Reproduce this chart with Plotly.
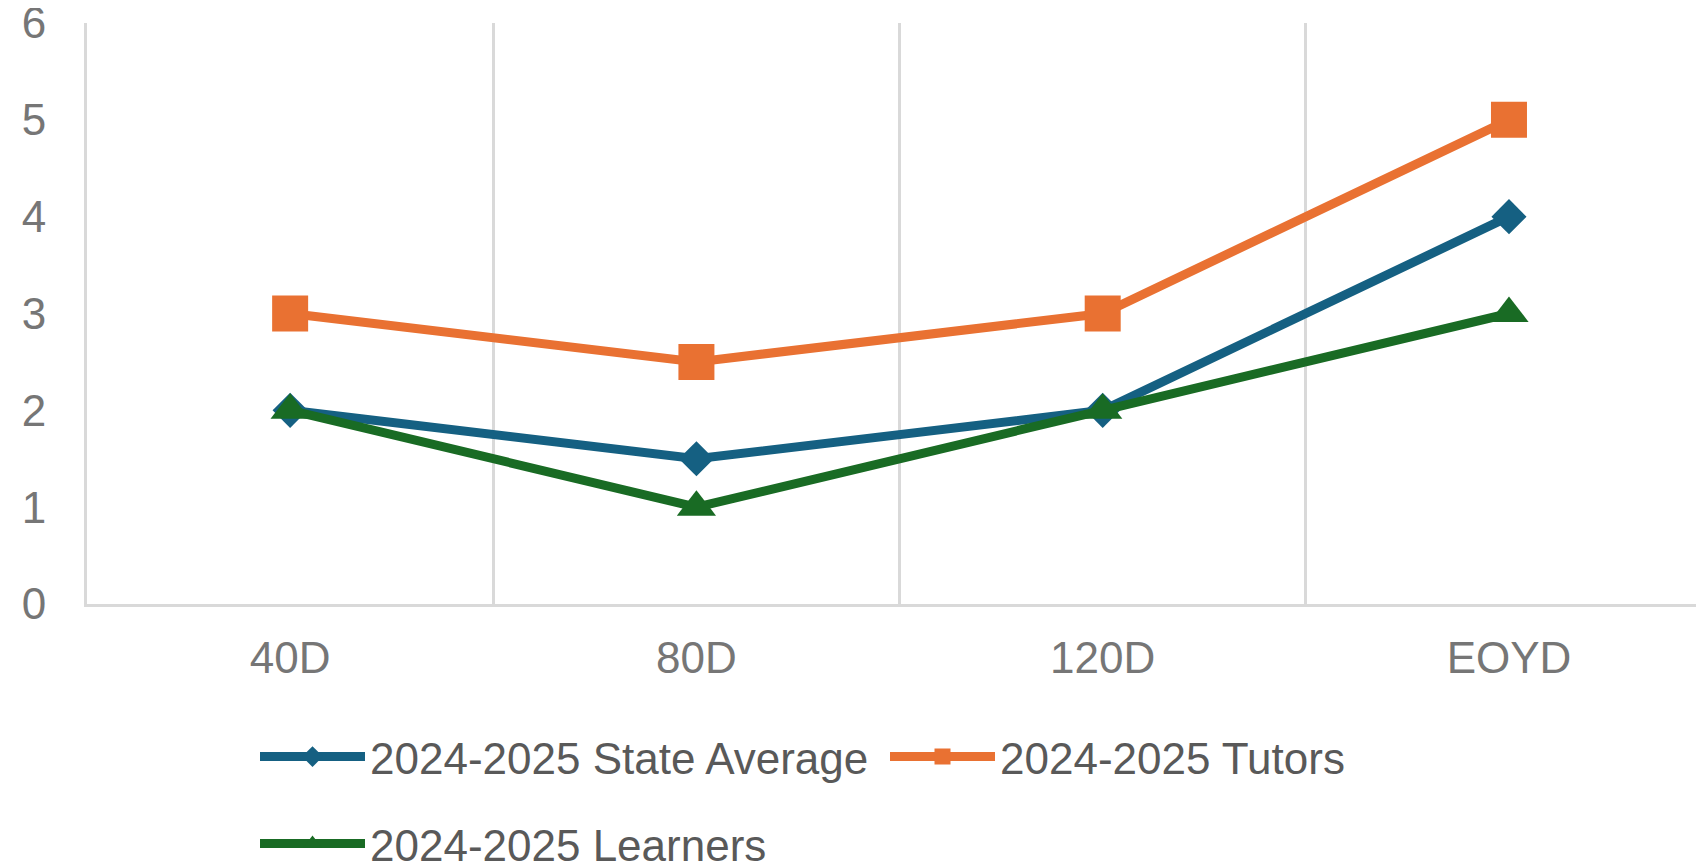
import plotly.graph_objects as go

categories = ["40D", "80D", "120D", "EOYD"]
state_average = [2, 1.5, 2, 4]
tutors = [3, 2.5, 3, 5]
learners = [2, 1, 2, 3]

series_names = ["2024-2025 State Average", "2024-2025 Tutors", "2024-2025 Learners"]
colors = ["#156082", "#E97132", "#196B24"]
symbols = ["diamond", "square", "triangle-up"]
sizes = [27, 36, 34]
legends = ["legend", "legend", "legend2"]
legend_widths = [510, None, None]
y_ticks = [0, 1, 2, 3, 4, 5, 6]

FONT = "Liberation Sans, Arial, sans-serif"
GRID = "#d9d9d9"
# the page body adds an 8px offset, so the figure is 8px smaller on each axis
W, H = 1696, 857

fig = go.Figure()
for name, vals, col, sym, sz, lg, lw in zip(series_names, [state_average, tutors, learners],
                                            colors, symbols, sizes, legends, legend_widths):
    fig.add_trace(go.Scatter(
        x=categories, y=vals, name=name, mode="lines+markers",
        line=dict(color=col, width=9),
        marker=dict(symbol=sym, size=sz, color=col, line=dict(width=0)),
        legend=lg, legendwidth=lw,
    ))

legend_common = dict(
    orientation="h", xref="container", yref="container",
    xanchor="left", yanchor="middle",
    font=dict(family=FONT, size=44, color="#595959"),
    itemwidth=105, bgcolor="rgba(0,0,0,0)",
)

fig.update_layout(
    width=W, height=H,
    margin=dict(l=79, r=0, t=15, b=261, autoexpand=False),
    paper_bgcolor="white", plot_bgcolor="white",
    font=dict(family=FONT),
    showlegend=True,
    legend=dict(x=247 / W, y=1 - 749 / H, **legend_common),
    legend2=dict(x=247 / W, y=1 - 836 / H, **legend_common),
    xaxis=dict(
        type="category", categoryorder="array", categoryarray=categories,
        range=[-0.5, 3.48], tickson="boundaries",
        showgrid=True, gridcolor=GRID, gridwidth=3,
        showline=True, linecolor=GRID, linewidth=3,
        ticks="outside", ticklen=5, tickcolor="rgba(0,0,0,0)",
        ticklabelstandoff=13,
        tickfont=dict(family=FONT, size=44, color="#767676"),
        zeroline=False, fixedrange=True, automargin=False,
    ),
    yaxis=dict(
        range=[0, 6], tickmode="array", tickvals=y_ticks,
        showgrid=False, zeroline=False,
        showline=True, linecolor=GRID, linewidth=3,
        ticks="outside", ticklen=29, tickcolor="rgba(0,0,0,0)",
        ticklabeloverflow="allow",
        tickfont=dict(family=FONT, size=44, color="#767676"),
        fixedrange=True, automargin=False,
    ),
)

fig.write_html("out.html")
